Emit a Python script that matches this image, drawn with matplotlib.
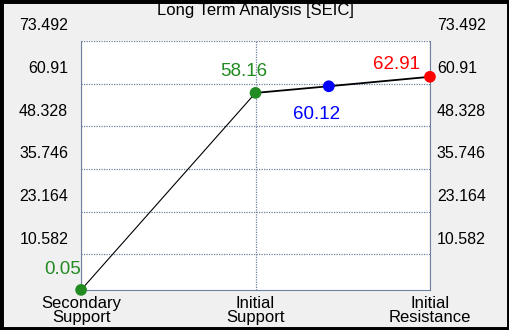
import matplotlib
matplotlib.use("Agg")
import matplotlib.pyplot as plt
import matplotlib.transforms as mtransforms
from matplotlib.patches import Rectangle

# data
title = "Long Term Analysis [SEIC]"
categories = ["Secondary\nSupport", "Initial\nSupport", "Initial\nResistance"]
x_pts = [0, 1, 1.42, 2]
y_pts = [0.05, 58.16, 60.12, 62.91]
pt_colors = ["#228b22", "#228b22", "#0000ff", "#ff0000"]
pt_labels = ["0.05", "58.16", "60.12", "62.91"]
yticks = [10.582, 23.164, 35.746, 48.328, 60.91, 73.492]
ytick_labels = ["10.582", "23.164", "35.746", "48.328", "60.91", "73.492"]

plt.rcParams['font.family'] = ['Liberation Sans', 'DejaVu Sans']

fig = plt.figure(figsize=(5.1, 3.3), dpi=100)
fig.patch.set_facecolor("#f0f0f0")
fig.patches.append(Rectangle((0, 0), 1, 1, transform=fig.transFigure, fill=False,
                             edgecolor="black", linewidth=5, zorder=10))
ax = fig.add_axes([0.159, 0.121, 0.684, 0.755])
ax.set_facecolor("white")

ax.set_xlim(0, 2)
ax.set_ylim(0, 73.492)

gridc = "#7080a0"
for s in ["left", "right", "bottom"]:
    ax.spines[s].set_color(gridc)
ax.spines["top"].set_visible(False)
ax.set_yticks(yticks)
ax.set_yticklabels([])
ax.set_xticks([0, 1, 2])
ax.set_xticklabels(categories)
ax.tick_params(axis="both", length=0, colors="black")
ax.tick_params(axis="x", pad=4, labelsize=12)
for lab in ax.get_xticklabels():
    lab.set_linespacing(0.95)
ax.grid(True, color=gridc, linestyle=(0, (1, 1)), linewidth=0.9)

# y labels sit above their gridlines, on both sides
off = mtransforms.ScaledTranslation(0, 15 / 100, fig.dpi_scale_trans)
trans = mtransforms.blended_transform_factory(ax.transAxes, ax.transData) + off
for y, l in zip(yticks, ytick_labels):
    ax.text(-0.037, y, l, transform=trans, ha="right", va="center", fontsize=11.5)
    ax.text(1.02, y, l, transform=trans, ha="left", va="center", fontsize=11.5)

ax.plot(x_pts[:2], y_pts[:2], color="black", linewidth=0.8, zorder=3)
ax.plot(x_pts[1:], y_pts[1:], color="black", linewidth=1.3, zorder=3)
ax.scatter(x_pts, y_pts, c=pt_colors, s=55, zorder=4, clip_on=False)

offsets = [(-18, 20), (-12, 21), (-12, -28), (-33, 12)]
for x, y, c, l, (dx, dy) in zip(x_pts, y_pts, pt_colors, pt_labels, offsets):
    ax.annotate(l, (x, y), xytext=(dx * 0.72, dy * 0.72), textcoords="offset points",
                ha="center", va="center", color=c, fontsize=13.5)

fig.text(0.5, 0.968, title, ha="center", va="center", fontsize=12)

fig.savefig("out.png", dpi=100, facecolor=fig.get_facecolor())
